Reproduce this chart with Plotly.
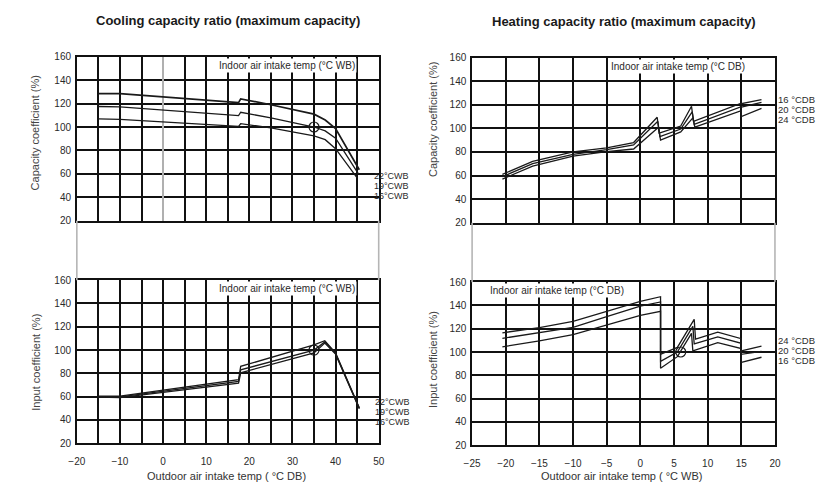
import plotly.graph_objects as go

W, H = 837, 497

# ---------------- data ----------------
# Cooling capacity ratio (x: outdoor air intake temp, °C DB)
cool_cap_x_22 = [-15, -10, 17.5, 18, 25, 35, 37.6, 40, 45.5]
cool_cap_22 = [128.5, 128.5, 120.8, 124, 119, 111, 106, 98.6, 63.5]
cool_cap_x_19 = [-15, -10, 17.5, 18, 25, 35, 37.6, 40, 45.3]
cool_cap_19 = [117.5, 117.2, 109.8, 112.6, 107.8, 100, 96.7, 90.4, 60]
cool_cap_x_16 = [-15, -10, 17.5, 18, 25, 35, 37.6, 40, 45]
cool_cap_16 = [107, 106.5, 100.6, 102.8, 99.3, 92.5, 89.2, 81.5, 56.6]

# Cooling input coefficient
cool_in_x = [-15, -10, 17.5, 18, 35, 37.5, 40, 45.5]
cool_in_22 = [60.5, 60.5, 74.5, 86, 104.5, 108, 97.5, 50.5]
cool_in_19 = [60, 59.8, 73, 83, 100, 107, 97, 50]
cool_in_16 = [59.5, 59.2, 71.5, 80.5, 97.5, 106, 96.5, 49.5]

# Heating capacity ratio (x: outdoor air intake temp, °C WB)
heat_cap_x_16 = [-20.5, -16, -10, -5, -1, 2.5, 2.8, 6, 7.6, 7.9, 15, 15, 18]
heat_cap_16 = [61, 72, 80, 83.5, 88, 109.5, 96, 102, 118.8, 106, 121.5, 121, 124.5]
heat_cap_x_20 = [-20.5, -16, -10, -5, -1, 2.6, 2.9, 6, 7.7, 8.0, 15, 15, 18]
heat_cap_20 = [59, 70, 78, 82, 86, 106, 93, 99.5, 114, 103.5, 118.5, 118, 122]
heat_cap_x_24 = [-20.5, -16, -10, -5, -1, 2.7, 3.0, 6, 7.8, 8.1, 15, 15, 18]
heat_cap_24 = [57, 68, 76.5, 80.3, 82.5, 101, 90, 97, 109, 101, 115, 110, 117]

# Heating input coefficient
heat_in_x_24 = [-20.5, -15, -10, -5, 0, 3, 3, 5.5, 8, 8.2, 11.5, 15, 15, 18]
heat_in_24 = [116.5, 121, 126.3, 135, 143.5, 147.5, 98, 104, 128, 111, 117, 111.5, 101, 105]
heat_in_x_20 = [-20.5, -15, -10, -5, 0, 3, 3, 5.5, 7.8, 8.0, 11.5, 15, 15, 18]
heat_in_20 = [111.7, 116.5, 121.2, 130.4, 139.5, 143, 92, 100, 122, 107, 113, 107.5, 98, 100.5]
heat_in_x_16 = [-20.5, -15, -10, -5, 0, 3, 3, 5.5, 7.6, 7.8, 11.5, 15, 15, 18]
heat_in_16 = [104.5, 109.5, 115, 123.4, 131.5, 135, 86, 96, 116, 101, 108, 103, 91, 95.5]

# rating points (open circles)
cool_point = (35, 100)
heat_point = (6, 100)

cool_labels = ["22°CWB", "19°CWB", "16°CWB"]
heat_cap_labels = ["16 °CDB", "20 °CDB", "24 °CDB"]
heat_in_labels = ["24 °CDB", "20 °CDB", "16 °CDB"]

# ---------------- helpers ----------------
def px(x):
    return x / W

def py(y):
    return 1 - y / H

FONT = "Liberation Sans, Arial, sans-serif"
TXT = "#2a2a2a"

fig = go.Figure()

def add_line(x, y, xa, ya, width=1.3):
    fig.add_trace(go.Scatter(x=x, y=y, mode="lines", xaxis=xa, yaxis=ya,
                             line=dict(color="#1a1a1a", width=width),
                             showlegend=False, hoverinfo="skip"))

def add_circle(pt, xa, ya):
    fig.add_trace(go.Scatter(x=[pt[0]], y=[pt[1]], mode="markers", xaxis=xa, yaxis=ya,
                             marker=dict(symbol="circle-open", size=10,
                                         color="#1a1a1a", line=dict(width=1.2)),
                             showlegend=False, hoverinfo="skip"))

# left top
add_line(cool_cap_x_22, cool_cap_22, "x", "y", 1.7)
add_line(cool_cap_x_19, cool_cap_19, "x", "y")
add_line(cool_cap_x_16, cool_cap_16, "x", "y")
add_circle(cool_point, "x", "y")
# left bottom
add_line(cool_in_x, cool_in_22, "x2", "y2")
add_line(cool_in_x, cool_in_19, "x2", "y2")
add_line(cool_in_x, cool_in_16, "x2", "y2")
add_circle(cool_point, "x2", "y2")
# right top
add_line(heat_cap_x_16, heat_cap_16, "x3", "y3")
add_line(heat_cap_x_20, heat_cap_20, "x3", "y3")
add_line(heat_cap_x_24, heat_cap_24, "x3", "y3")
# right bottom
add_line(heat_in_x_24, heat_in_24, "x4", "y4")
add_line(heat_in_x_20, heat_in_20, "x4", "y4")
add_line(heat_in_x_16, heat_in_16, "x4", "y4")
add_circle(heat_point, "x4", "y4")

L_DOM = [px(70), px(377)]
R_DOM = [px(472), px(780)]
LT_DOM = [py(220), py(52)]
LB_DOM = [py(448), py(281)]
RT_DOM = [py(222), py(53)]
RB_DOM = [py(450), py(283)]

tickfont = dict(family=FONT, size=10, color=TXT)
GRID = "#111"
GW = 1.5

def xax(domain, anchor, rng, dtick, labels, zero_gray=False):
    d = dict(domain=domain, anchor=anchor, range=rng, dtick=dtick, tick0=0,
             showgrid=True, gridcolor=GRID, gridwidth=GW,
             minor=dict(dtick=5, showgrid=True, gridcolor=GRID, gridwidth=GW),
             showline=True, mirror=True, linecolor=GRID, linewidth=1.6,
             ticks="", showticklabels=labels, tickfont=tickfont,
             fixedrange=True)
    if labels:
        d["ticklabelstandoff"] = 8
    if zero_gray:
        d.update(zeroline=True, zerolinecolor="#b0b0b0", zerolinewidth=2.2)
    else:
        d.update(zeroline=False)
    return d

def yax(domain, anchor):
    return dict(domain=domain, anchor=anchor, range=[20, 160], dtick=20, tick0=0,
                showgrid=True, gridcolor=GRID, gridwidth=GW, zeroline=False,
                showline=True, mirror=True, linecolor=GRID, linewidth=1.6,
                ticks="", tickfont=tickfont, ticklabelstandoff=2, fixedrange=True)

fig.update_layout(
    width=W, height=H, margin=dict(l=0, r=0, t=0, b=0, pad=0),
    paper_bgcolor="white", plot_bgcolor="white",
    xaxis=xax(L_DOM, "y", [-20, 50], 10, False, zero_gray=True),
    yaxis=yax(LT_DOM, "x"),
    xaxis2=xax(L_DOM, "y2", [-20, 50], 10, True),
    yaxis2=yax(LB_DOM, "x2"),
    xaxis3=xax(R_DOM, "y3", [-25, 20], 5, False),
    yaxis3=yax(RT_DOM, "x3"),
    xaxis4=xax(R_DOM, "y4", [-25, 20], 5, True),
    yaxis4=yax(RB_DOM, "x4"),
)

# gap side borders
shapes = []
for x0, ya, yb in [(70, 220, 281), (377, 220, 281), (472, 222, 283), (780, 222, 283)]:
    shapes.append(dict(type="line", xref="paper", yref="paper",
                       x0=px(x0), x1=px(x0), y0=py(ya), y1=py(yb),
                       line=dict(color="#b5b5b5", width=1.6)))
fig.update_layout(shapes=shapes)

ann = []
def text(t, x, y, size=10, bold=False, xanchor="center", yanchor="middle",
         angle=0, color=TXT, bg=None, pad=1):
    a = dict(text=("<b>%s</b>" % t) if bold else t, xref="paper", yref="paper",
             x=px(x), y=py(y), xanchor=xanchor, yanchor=yanchor, showarrow=False,
             textangle=angle, font=dict(family=FONT, size=size, color=color),
             borderpad=pad)
    if bg:
        a["bgcolor"] = bg
    ann.append(a)

# titles
text("Cooling capacity ratio (maximum capacity)", 223.5, 15, size=13, bold=True, color="#1a1a1a")
text("Heating capacity ratio (maximum capacity)", 626, 16, size=13, bold=True, color="#1a1a1a")

# axis titles
text("Capacity coefficient (%)", 27, 130, size=11, angle=-90, color="#444")
text("Input coefficient (%)", 29, 365, size=11, angle=-90, color="#444")
text("Capacity coefficient (%)", 432, 116, size=11, angle=-90, color="#444")
text("Input coefficient (%)", 432, 362, size=11, angle=-90, color="#444")
text("Outdoor air intake temp ( °C DB)", 222.5, 482, size=11, color="#333")
text("Outdoor air intake temp ( °C WB)", 624, 482, size=11, color="#333")

# inner labels (white background hides gridlines)
text("Indoor air intake temp (°C WB)", 283.5, 61, size=10, bg="white")
text("Indoor air intake temp (°C WB)", 283.5, 289.5, size=10, bg="white")
text("Indoor air intake temp (°C DB)", 681.5, 61.5, size=10, bg="white")
text("Indoor air intake temp (°C DB)", 558, 291.5, size=10, bg="white")

# curve labels
for lab, y in zip(cool_labels, [174, 184.5, 195]):
    text(lab, 371, y, size=9, xanchor="left", pad=0)
for lab, y in zip(cool_labels, [405.5, 416, 426.5]):
    text(lab, 372, y, size=9, xanchor="left", pad=0)
for lab, y in zip(heat_cap_labels, [95.5, 106, 116.5]):
    text(lab, 782, y, size=9.5, xanchor="left", pad=0)
for lab, y in zip(heat_in_labels, [342.5, 353, 363.5]):
    text(lab, 782, y, size=9.5, xanchor="left", pad=0)

fig.update_layout(annotations=ann)

fig.write_html("out.html")
